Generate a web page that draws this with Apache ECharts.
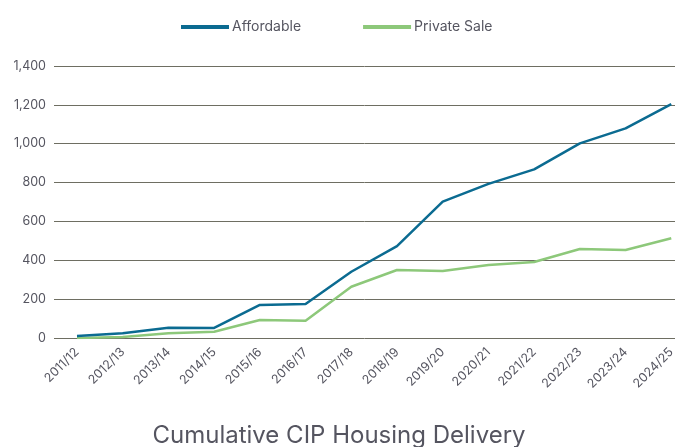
<!DOCTYPE html>
<html>
<head>
<meta charset="utf-8">
<script src="https://cdn.jsdelivr.net/npm/echarts@6/dist/echarts.min.js"></script>
<style>
  html, body { margin: 0; padding: 0; background: #fff; }
  #chart { width: 678px; height: 447px; }
</style>
</head>
<body>
<div id="chart"></div>
<script>
// financial years
const years = ['2011/12', '2012/13', '2013/14', '2014/15', '2015/16', '2016/17', '2017/18',
    '2018/19', '2019/20', '2020/21', '2021/22', '2022/23', '2023/24', '2024/25'];

// cumulative delivery
const affordable = [10, 25, 53, 52, 170, 175, 341, 473, 702, 793, 868, 1002, 1079, 1204];
const privateSale = [0, 5, 24, 32, 93, 89, 264, 350, 345, 376, 391, 458, 453, 513];

const yTicks = [0, 200, 400, 600, 800, 1000, 1200, 1400];

const chart = echarts.init(document.getElementById('chart'));

const labelFont = { fontFamily: 'Inter', fontSize: 12.5, color: '#555560' };

// grid 0 holds the lines, grid 1 only the horizontal rules and y labels
// (the rules start left of the first point in the original)
const option = {
    animation: false,
    title: {
        text: 'Cumulative CIP Housing Delivery',
        left: 'center',
        top: 419,
        textStyle: { fontFamily: 'Inter', fontWeight: 'normal', fontSize: 24, color: '#555560' }
    },
    legend: {
        top: 15,
        left: 176,
        itemWidth: 48,
        itemHeight: 4,
        itemGap: 62,
        icon: 'rect',
        textStyle: { fontFamily: 'Inter', fontSize: 14, color: '#555560', padding: [0, 0, 0, -2] },
        data: ['Affordable', 'Private Sale']
    },
    grid: [
        { left: 77, right: 4, top: 66, bottom: 109 },
        { left: 54, right: 3, top: 66, bottom: 109 }
    ],
    xAxis: [
        {
            type: 'category',
            gridIndex: 0,
            data: years,
            boundaryGap: false,
            axisLine: { show: false },
            axisTick: { show: false },
            axisLabel: Object.assign({ rotate: 45, interval: 0, margin: 12 }, labelFont)
        },
        { type: 'value', gridIndex: 1, show: false }
    ],
    yAxis: [
        {
            type: 'value',
            gridIndex: 0,
            min: yTicks[0],
            max: yTicks[yTicks.length - 1],
            interval: 200,
            show: false,
            splitLine: { show: false }
        },
        {
            type: 'value',
            gridIndex: 1,
            min: yTicks[0],
            max: yTicks[yTicks.length - 1],
            interval: 200,
            axisLine: { show: false },
            axisTick: { show: false },
            axisLabel: Object.assign({ margin: 8, formatter: v => v.toLocaleString('en-US') }, labelFont),
            splitLine: { lineStyle: { color: '#6e6e62', width: 1 } }
        }
    ],
    series: [
        {
            name: 'Affordable',
            type: 'line',
            data: affordable,
            symbol: 'none',
            z: 3,
            lineStyle: { color: '#0b6b91', width: 2.5 },
            itemStyle: { color: '#0b6b91' }
        },
        {
            name: 'Private Sale',
            type: 'line',
            data: privateSale,
            symbol: 'none',
            z: 2,
            lineStyle: { color: '#8dc87a', width: 2.5 },
            itemStyle: { color: '#8dc87a' }
        }
    ]
};

chart.setOption(option);
</script>
</body>
</html>
